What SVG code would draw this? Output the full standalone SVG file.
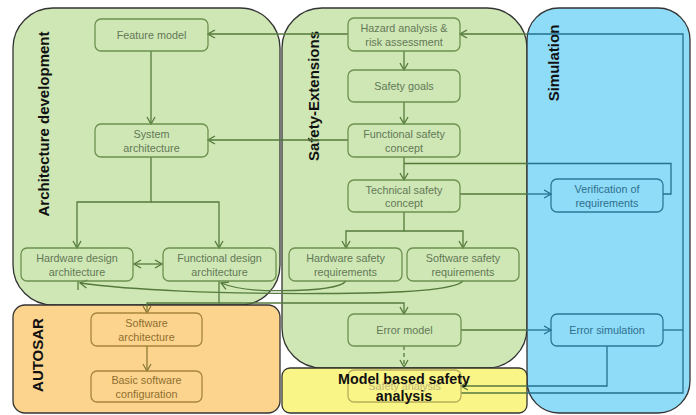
<svg xmlns="http://www.w3.org/2000/svg" width="696" height="415" viewBox="0 0 696 415">
  <style>
    .lane { stroke: #333; stroke-width: 1.3; }
    .green { fill: #cee7b5; }
    .orange { fill: #fcd48e; }
    .blue { fill: #8edcf8; }
    .yellow { fill: #faf587; }
    .title { font-family: "Liberation Sans", Arial, sans-serif; font-weight: bold; font-size: 15px; fill: #111; text-anchor: middle; }
    .box { fill: none; stroke-width: 1.3; }
    .g .box { stroke: #6e9150; }
    .g text { fill: #647855; }
    .o .box { stroke: #a8853c; }
    .o text { fill: #8f6f30; }
    .b .box { stroke: #2b7898; }
    .b text { fill: #2e6f8e; }
    .y .box { stroke: #b9ad5c; }
    .y text { fill: #bdb67c; }
    text { font-family: "Liberation Sans", Arial, sans-serif; font-size: 10.8px; text-anchor: middle; }
    .cg { fill: none; stroke: #557a3c; stroke-width: 1.3; }
    .cb { fill: none; stroke: #25708f; stroke-width: 1.3; }
    .co { fill: none; stroke: #8a7a38; stroke-width: 1.3; }
    .dash { stroke-dasharray: 4 3; }
  </style>
  <defs>
    <marker id="ag" viewBox="0 0 10 10" refX="9" refY="5" markerWidth="10" markerHeight="10" markerUnits="userSpaceOnUse" orient="auto-start-reverse">
      <path d="M2,1 L9,5 L2,9" fill="none" stroke="#557a3c" stroke-width="1.3"/>
    </marker>
    <marker id="ab" viewBox="0 0 10 10" refX="9" refY="5" markerWidth="10" markerHeight="10" markerUnits="userSpaceOnUse" orient="auto">
      <path d="M2,1 L9,5 L2,9" fill="none" stroke="#25708f" stroke-width="1.3"/>
    </marker>
    <marker id="ao" viewBox="0 0 10 10" refX="9" refY="5" markerWidth="10" markerHeight="10" markerUnits="userSpaceOnUse" orient="auto">
      <path d="M2,1 L9,5 L2,9" fill="none" stroke="#8a7a38" stroke-width="1.3"/>
    </marker>
  </defs>

  <!-- swimlane containers -->
  <g id="lane-architecture">
    <rect class="lane green" x="13" y="8" width="267" height="297" rx="40" ry="40"/>
    <text class="title" transform="translate(49,124) rotate(-90)">Architecture development</text>
  </g>
  <g id="lane-autosar">
    <rect class="lane orange" x="13" y="305" width="267" height="108" rx="12" ry="12"/>
    <text class="title" transform="translate(43,355) rotate(-90)">AUTOSAR</text>
  </g>
  <g id="lane-safety">
    <rect class="lane green" x="282" y="8" width="245" height="360" rx="40" ry="40"/>
    <text class="title" transform="translate(319,96) rotate(-90)">Safety-Extensions</text>
  </g>
  <g id="lane-simulation">
    <rect class="lane blue" x="527" y="8" width="163" height="405" rx="32" ry="32"/>
    <text class="title" transform="translate(559,63) rotate(-90)">Simulation</text>
  </g>
  <g id="lane-mbsa">
    <rect class="lane yellow" x="282" y="368" width="245" height="45" rx="8" ry="8"/>
  </g>

  <!-- connectors -->
  <g id="connectors">
    <path class="cg" d="M151,51 V124" marker-end="url(#ag)"/>
    <path class="cg" d="M348,34 H208" marker-end="url(#ag)"/>
    <path class="cg" d="M348,140 H208" marker-end="url(#ag)"/>
    <path class="cg" d="M404,51 V70" marker-end="url(#ag)"/>
    <path class="cg" d="M404,102 V124" marker-end="url(#ag)"/>
    <path class="cg" d="M404,157 V180" marker-end="url(#ag)"/>
    <path class="cg" d="M151,157 V202 H77 V248" marker-end="url(#ag)"/>
    <path class="cg" d="M151,202 H219 V248" marker-end="url(#ag)"/>
    <path class="cg" d="M134,264 H162" marker-start="url(#ag)" marker-end="url(#ag)"/>
    <path class="cg" d="M404,212 V231 H346 V248" marker-end="url(#ag)"/>
    <path class="cg" d="M404,231 H463 V248" marker-end="url(#ag)"/>
    <path class="cg" d="M404,163.5 H527"/>
    <path class="cb" d="M527,163.5 H671 V194 H663"/>
    <path class="cg" d="M460,194 H527"/>
    <path class="cb" d="M527,194 H551" marker-end="url(#ab)"/>
    <path class="cg" d="M463,281 C455,290 400,293.5 320,293.5 C220,294 130,290 80,283" marker-end="url(#ag)"/>
    <path class="cg" d="M78,281 V290"/>
    <path class="cg" d="M346,281 C340,289 310,290.5 280,290.7 C250,291 233,288 221,283" marker-end="url(#ag)"/>
    <path class="cg" d="M219,281 V303 H147 V307"/>
    <path class="co" d="M147,307 V313" marker-end="url(#ao)"/>
    <path class="cg" d="M219,303 H404 V314" marker-end="url(#ag)"/>
    <path class="co" d="M147,346 V371" marker-end="url(#ao)"/>
    <path class="cg" d="M461,330 H527"/>
    <path class="cb" d="M527,330 H551" marker-end="url(#ab)"/>
    <path class="cg dash" d="M404,346 V367" marker-end="url(#ag)"/>
    <path class="cb" d="M607,346 V386 H527"/>
    <path class="cg" d="M527,386 H461" marker-end="url(#ag)"/>
    <path class="cb" d="M663,330 H683"/>
    <path class="cb" d="M527,393 H683 V34 H527"/>
    <path class="cg" d="M461,393 H527"/>
    <path class="cg" d="M527,34 H460" marker-end="url(#ag)"/>
  </g>

  <!-- architecture development nodes -->
  <g id="feature-model" class="g">
    <rect class="box" x="95" y="19" width="113" height="32" rx="6"/>
    <text x="151.5" y="39">Feature model</text>
  </g>
  <g id="system-architecture" class="g">
    <rect class="box" x="95" y="124" width="113" height="33" rx="6"/>
    <text x="151.5" y="138">System</text>
    <text x="151.5" y="151.5">architecture</text>
  </g>
  <g id="hardware-design-architecture" class="g">
    <rect class="box" x="21" y="248" width="112" height="33" rx="6"/>
    <text x="77" y="262">Hardware design</text>
    <text x="77" y="275.5">architecture</text>
  </g>
  <g id="functional-design-architecture" class="g">
    <rect class="box" x="163" y="248" width="113" height="33" rx="6"/>
    <text x="219.5" y="262">Functional design</text>
    <text x="219.5" y="275.5">architecture</text>
  </g>

  <!-- AUTOSAR nodes -->
  <g id="software-architecture" class="o">
    <rect class="box" x="91" y="313" width="111" height="33" rx="6"/>
    <text x="146.5" y="327">Software</text>
    <text x="146.5" y="340.5">architecture</text>
  </g>
  <g id="basic-software-configuration" class="o">
    <rect class="box" x="91" y="371" width="111" height="31" rx="6"/>
    <text x="146.5" y="384">Basic software</text>
    <text x="146.5" y="397.5">configuration</text>
  </g>

  <!-- safety extension nodes -->
  <g id="hazard-analysis" class="g">
    <rect class="box" x="348" y="18" width="112" height="33" rx="6"/>
    <text x="404" y="32">Hazard analysis &amp;</text>
    <text x="404" y="45.5">risk assessment</text>
  </g>
  <g id="safety-goals" class="g">
    <rect class="box" x="348" y="70" width="112" height="32" rx="6"/>
    <text x="404" y="90">Safety goals</text>
  </g>
  <g id="functional-safety-concept" class="g">
    <rect class="box" x="348" y="124" width="112" height="33" rx="6"/>
    <text x="404" y="138">Functional safety</text>
    <text x="404" y="151.5">concept</text>
  </g>
  <g id="technical-safety-concept" class="g">
    <rect class="box" x="348" y="180" width="112" height="32" rx="6"/>
    <text x="404" y="193.5">Technical safety</text>
    <text x="404" y="207">concept</text>
  </g>
  <g id="hardware-safety-requirements" class="g">
    <rect class="box" x="289" y="248" width="113" height="33" rx="6"/>
    <text x="345.5" y="262">Hardware safety</text>
    <text x="345.5" y="275.5">requirements</text>
  </g>
  <g id="software-safety-requirements" class="g">
    <rect class="box" x="407" y="248" width="112" height="33" rx="6"/>
    <text x="463" y="262">Software safety</text>
    <text x="463" y="275.5">requirements</text>
  </g>
  <g id="error-model" class="g">
    <rect class="box" x="348" y="314" width="113" height="32" rx="6"/>
    <text x="404.5" y="334">Error model</text>
  </g>

  <!-- model based safety analysis -->
  <g id="safety-analysis" class="y">
    <rect class="box" x="348" y="370" width="113" height="32" rx="6"/>
    <text x="404.5" y="390">Safety analysis</text>
  </g>
  <g id="mbsa-title">
    <text class="title" style="font-size:14.3px" x="404" y="384">Model based safety</text>
    <text class="title" style="font-size:14.3px" x="404" y="401">analysis</text>
  </g>

  <!-- simulation nodes -->
  <g id="verification-of-requirements" class="b">
    <rect class="box" x="551" y="179" width="112" height="33" rx="6"/>
    <text x="607" y="193">Verification of</text>
    <text x="607" y="206.5">requirements</text>
  </g>
  <g id="error-simulation" class="b">
    <rect class="box" x="551" y="314" width="112" height="32" rx="6"/>
    <text x="607" y="334">Error simulation</text>
  </g>
</svg>
